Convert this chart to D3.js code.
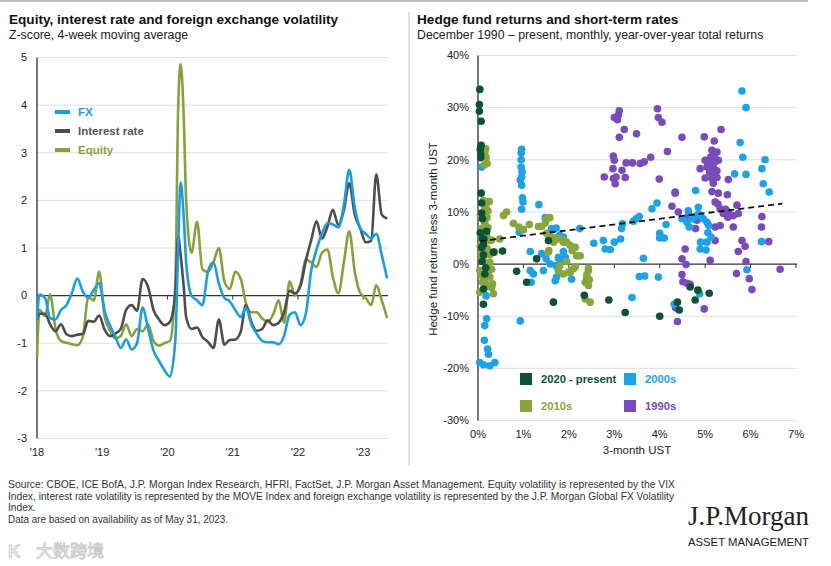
<!DOCTYPE html>
<html>
<head>
<meta charset="utf-8">
<script src="https://cdn.jsdelivr.net/npm/d3@7.9.0/dist/d3.min.js"></script>
<style>
  body { margin: 0; background: #fff; }
  svg { font-family: "Liberation Sans", Arial, sans-serif; }
</style>
</head>
<body>
<svg id="chart" width="831" height="566"></svg>
<script>
// ---- left panel data: z-scores, 4-week moving average ----
const dates = [
  '2018-01-01',
  '2018-01-15','2018-02-15','2018-03-15','2018-04-15','2018-05-15','2018-06-15',
  '2018-07-15','2018-08-15','2018-09-15','2018-10-15','2018-11-15','2018-12-15',
  '2019-01-15','2019-02-15','2019-03-15','2019-04-15','2019-05-15','2019-06-15',
  '2019-07-15','2019-08-15','2019-09-15','2019-10-15','2019-11-15','2019-12-15',
  '2020-01-15','2020-02-15','2020-03-01','2020-03-15','2020-04-01','2020-04-15',
  '2020-05-15','2020-06-15','2020-07-15','2020-08-15','2020-09-15','2020-10-15',
  '2020-11-15','2020-12-15',
  '2021-01-15','2021-02-15','2021-03-15','2021-04-15','2021-05-15','2021-06-15',
  '2021-07-15','2021-08-15','2021-09-15','2021-10-15','2021-11-15','2021-12-15',
  '2022-01-15','2022-02-15','2022-03-15','2022-04-15','2022-05-15','2022-06-15',
  '2022-07-15','2022-08-15','2022-09-15','2022-10-15','2022-11-15','2022-12-15',
  '2023-01-15','2023-02-15','2023-03-15','2023-04-15','2023-05-15'
];

const fx = [
  -0.5,
  0.02, -0.05, -0.47, -0.5, -0.3, -0.2, 0.05, 0.36, 0.08, -0.04, 0.12, 0.26,
  -0.33, -0.64, -0.85, -1.1, -0.92, -1.13, -1.0, -0.25, -0.7, -1.15, -1.37, -1.56,
  -1.7, -0.9, 1.0, 2.38, 1.68, 0.7, 0.0, -0.1, -0.2, 0.5, 0.7, 0.25, -0.05, -0.12,
  -0.3, -0.45, -0.25, -0.6, -0.8, -0.95, -0.98, -0.98, -1.02, -0.85, -0.4, -0.35,
  -0.62, -0.36, 0.5, 0.97, 1.3, 1.52, 1.5, 1.43, 1.9, 2.64, 1.85, 1.42,
  1.3, 1.2, 1.3, 0.85, 0.36
];

const interestRate = [
  -0.5,
  -0.38, -0.38, -0.6, -0.75, -0.6, -0.81, -0.85, -0.82, -0.8, -0.53, -0.55, -0.42,
  -0.72, -0.85, -0.8, -0.7, -0.3, -0.2, -0.32, 0.35, 0.18, -0.3, -0.5, -0.62,
  -0.55, 0.1, 1.25, 0.85, 0.2, -0.45, -0.7, -0.67, -0.87, -0.97, -1.1, -0.5, -1.03, -0.93,
  -0.92, -0.75, -0.2, -0.55, -0.74, -0.7, -0.52, -0.62, -0.57, -0.35, 0.1, 0.05,
  0.2, 0.75, 1.15, 1.56, 1.2, 1.45, 1.8, 1.48, 1.8, 2.36, 1.7, 1.42,
  1.12, 1.15, 2.55, 1.7, 1.62
];

const equity = [
  -1.3,
  -0.3, -0.43, 0.03, -0.7, -0.95, -0.99, -1.02, -1.04, -0.86, -0.03, -0.1, 0.5,
  -0.45, -0.74, -0.9, -0.85, -0.6, -0.85, -0.7, -0.75, -0.6, -0.95, -1.05, -1.0,
  -0.95, 0.3, 3.9, 4.86, 3.8, 2.0, 0.9, 1.55, 0.55, 0.5, 0.7, 1.0, 0.3, 0.14,
  0.5, 0.35, -0.15, -0.35, -0.35, -0.48, -0.55, -0.4, -0.1, -0.57, 0.3, 0.0,
  0.25, 0.76, 0.7, 0.6, 0.9, 0.97, 0.4, 0.05, 0.7, 1.35, 0.5, 0.06,
  -0.05, -0.2, 0.22, -0.1, -0.47
];

const yearTicks = ['2018-01-01','2019-01-01','2020-01-01','2021-01-01','2022-01-01','2023-01-01'];
const yearLabels = ["'18","'19","'20","'21","'22","'23"];
const zTicks = [5, 4, 3, 2, 1, 0, -1, -2, -3];

// ---- right panel data: [3-month UST %, hedge fund return less UST %] ----
const pts1990s = [
  [3.11,29.4],[3.09,28.6],[3.0,28.1],[3.07,27.7],[3.95,29.8],[3.97,28.1],[4.05,27.2],
  [3.22,25.8],[3.49,25.0],[3.11,24.3],[4.49,24.3],[4.98,24.4],[5.35,25.8],[5.2,23.6],
  [4.17,21.6],[2.98,20.7],[3.0,19.9],[3.26,19.4],[3.4,19.4],[3.57,19.3],[3.66,19.6],
  [3.8,20.5],[2.97,18.3],[3.17,18.0],[2.78,16.7],[2.98,16.4],[3.04,16.7],[3.24,16.6],
  [3.02,15.4],[3.99,16.3],[4.34,13.8],[4.89,18.3],[5.15,21.8],[5.26,21.5],[5.0,19.9],
  [5.07,19.6],[5.15,19.9],[5.22,19.6],[5.29,19.9],[5.04,18.6],[5.18,18.5],[5.1,17.6],
  [5.26,17.9],[5.0,16.5],[5.15,16.4],[5.26,16.6],[5.18,15.5],[5.51,16.2],[5.15,13.9],
  [5.29,13.6],[5.49,13.3],[5.12,20.5],[5.2,20.8],[5.08,18.9],[5.22,17.0],
  [4.34,13.6],[4.27,11.1],[4.41,10.0],[4.63,9.3],[4.82,8.4],[4.79,6.8],[5.22,11.9],
  [5.28,11.5],[5.33,10.6],[5.4,9.7],[5.51,10.0],[5.62,9.3],[5.7,11.3],[5.73,9.7],
  [5.33,7.4],[5.22,7.1],[5.62,7.1],[5.22,4.5],[6.25,9.1],[6.24,7.1],[6.4,4.3],
  [5.81,4.5],[5.88,3.4],[5.73,2.4],[5.9,0.5],[6.65,-1.0],[5.69,-1.8],[5.97,-2.8],
  [6.03,-4.9],[4.56,2.9],[4.49,1.0],[4.58,-0.1],[5.11,0.7],[4.49,-2.0],[4.51,-3.4],
  [4.6,-3.7],[4.67,-3.9],[4.98,-8.6],[4.39,-11.0],[4.35,-8.4],[5.45,10.5],[5.5,9.0]
];

const pts2000s = [
  [0.96,22.0],[0.95,21.3],[0.95,20.0],[0.95,18.6],[0.97,17.7],[0.96,16.7],[0.93,16.1],
  [0.96,15.1],[0.98,12.7],[0.99,11.9],[0.96,10.5],[0.91,6.1],[1.34,11.4],[1.48,8.9],
  [1.62,6.8],[1.72,6.9],[1.8,5.5],[1.88,4.8],[1.88,5.2],[2.24,6.8],[2.55,4.0],
  [2.76,4.5],[2.8,2.9],[2.91,2.8],[3.0,4.2],[3.14,4.8],[3.16,6.8],[3.18,7.7],
  [3.42,8.2],[3.48,8.7],[3.55,9.1],[3.83,10.6],[3.94,11.7],[3.64,1.1],[3.55,-2.4],
  [3.67,-2.3],[3.97,-2.5],[3.39,-6.4],[4.0,5.9],[4.0,5.0],[4.1,5.0],[4.14,7.6],
  [4.49,8.7],[4.63,10.2],[4.65,7.1],[4.76,9.0],[4.85,10.9],[4.89,9.3],[4.96,8.7],
  [5.04,8.0],[5.08,7.4],[5.06,6.0],[5.13,5.2],[5.04,4.2],[4.9,4.2],[5.02,2.7],
  [4.89,2.9],[5.92,-1.1],[6.24,4.3],[6.41,13.8],[4.88,-5.7],[4.32,-7.7],[4.79,14.1],
  [5.81,33.2],[5.9,30.0],[5.77,23.3],[5.83,20.5],[6.32,20.0],[6.25,18.3],[5.65,17.3],
  [5.9,17.2],[6.28,15.4],[4.85,9.6],[4.71,8.7],[4.6,8.0],
  [0.08,18.6],[0.04,-18.9],[0.12,-19.3],[0.26,-19.5],[0.37,-18.9],[0.23,-17.3],
  [0.21,-16.3],[0.14,-14.6],[0.15,-11.8],[0.19,-10.5],[0.93,-10.9],[0.18,-6.1],
  [0.19,-4.3],[1.15,2.4],[1.15,-1.25],[1.22,-1.9],[1.17,-3.5],[1.4,2.0],[1.44,-1.25],
  [1.59,0.0],[1.72,-0.3],[1.77,-1.25],[1.7,-3.2],[1.73,-2.5],[1.84,0.7],[1.92,1.3],
  [1.77,1.3],[1.88,2.4],[2.06,-2.9],[1.5,1.0],[1.78,1.0]
];

const pts2010s = [
  [0.17,22.1],[0.15,21.5],[0.18,20.5],[0.2,19.3],[0.14,19.0],[0.12,12.2],[0.17,11.4],
  [0.2,11.8],[0.15,10.6],[0.22,10.2],[0.17,9.6],[0.1,8.7],[0.2,8.9],[0.15,7.8],
  [0.08,6.8],[0.22,7.0],[0.19,5.5],[0.06,5.8],[0.12,4.3],[0.25,4.5],[0.3,4.6],
  [0.05,3.4],[0.2,3.0],[0.08,2.0],[0.26,1.8],[0.37,2.3],[0.08,0.7],[0.26,0.35],
  [0.19,-0.5],[0.04,-1.25],[0.3,-1.0],[0.08,-2.2],[0.26,-2.5],[0.15,-3.2],[0.32,-3.8],
  [0.3,-4.5],[0.04,-5.4],[0.34,-5.7],[0.2,-4.0],[0.1,-3.5],[0.22,-1.8],[0.12,1.2],
  [0.05,9.5],[0.25,12.0],
  [0.56,9.3],[0.63,10.0],[0.78,7.8],[0.9,7.1],[1.0,6.6],[1.13,7.6],[1.33,7.2],
  [1.4,7.2],[1.51,8.7],[1.58,8.9],[1.48,7.9],[0.48,4.8],[1.51,5.9],[1.77,4.8],
  [1.7,5.0],[1.88,4.2],[1.84,4.8],[1.95,4.2],[2.03,3.6],[2.07,2.6],[2.14,3.2],
  [2.17,1.6],[2.21,1.6],[1.56,2.6],[1.66,4.2],[1.55,2.3],[1.62,5.2],[2.43,-0.8],
  [1.77,-1.25],[1.88,-1.9],[2.1,-0.9],[2.14,-0.5],[2.43,-1.25],[2.39,-2.5],[2.36,-3.5],
  [2.43,-4.1],[2.47,-7.3],[2.36,-6.7],[2.4,-2.0],[2.45,-3.0],[1.8,-0.3],[1.95,0.5],
  [2.0,-1.5],[2.25,1.6],[2.03,-1.6]
];

const pts2020s = [
  [0.04,33.5],[0.03,30.6],[0.03,29.3],[0.07,27.4],[0.07,22.8],[0.05,22.0],[0.06,21.0],
  [0.06,20.4],[0.07,13.6],[0.08,11.7],[0.08,9.8],[0.1,8.7],[0.19,6.3],[0.1,4.8],
  [0.08,3.2],[0.13,4.8],[0.12,3.75],[0.12,1.8],[0.34,2.3],[0.54,2.5],[0.17,-0.7],
  [0.15,-1.9],[0.12,-4.8],[0.12,-7.7],[0.85,-1.4],[1.07,-3.5],[1.29,1.0],[1.55,4.5],
  [1.66,-7.3],[2.34,-6.0],[2.88,-6.9],[3.24,-9.3],[4.0,-10.0],[4.39,-7.3],[4.43,-8.8],
  [4.67,-4.4],[4.78,-6.9],[4.84,-5.0],[5.09,-5.6],[0.05,6.0],[0.09,0.5]
];

const trendX = [0.05, 6.7];
const trendY = [4.4, 11.6];
const rateTicks = [0, 1, 2, 3, 4, 5, 6, 7];
const returnTicks = [40, 30, 20, 10, 0, -10, -20, -30];

const svg = d3.select('#chart');
const parse = d3.timeParse('%Y-%m-%d');

// frame
svg.append('line').attr('x1', 0).attr('x2', 808).attr('y1', 1).attr('y2', 1)
  .attr('stroke', '#bdbdbd').attr('stroke-width', 2);
svg.append('line').attr('x1', 409).attr('x2', 409).attr('y1', 12).attr('y2', 466)
  .attr('stroke', '#cfcfcf').attr('stroke-width', 1.2);

// ================= left panel =================
svg.append('text').attr('x', 9).attr('y', 24)
  .attr('font-size', 13.6).attr('font-weight', 'bold').attr('fill', '#111')
  .text('Equity, interest rate and foreign exchange volatility');
svg.append('text').attr('x', 9).attr('y', 39)
  .attr('font-size', 12.3).attr('fill', '#222')
  .text('Z-score, 4-week moving average');

const xL = d3.scaleTime().domain([new Date(2018, 0, 1), new Date(2023, 4, 20)]).range([37, 388]);
const yL = d3.scaleLinear().domain([-3, 5]).range([438.5, 57.5]);

const left = svg.append('g');

left.selectAll('.gridL').data(zTicks.filter(d => d !== 0)).join('line')
  .attr('x1', 37).attr('x2', 388)
  .attr('y1', d => yL(d)).attr('y2', d => yL(d))
  .attr('stroke', '#dedede').attr('stroke-width', 1);

left.selectAll('.ylab').data(zTicks).join('text')
  .attr('x', 27).attr('y', d => yL(d)).attr('dy', '0.35em')
  .attr('text-anchor', 'end').attr('font-size', 11).attr('fill', '#222')
  .text(d => d);

left.selectAll('.xlab').data(yearTicks).join('text')
  .attr('x', d => xL(parse(d))).attr('y', 456)
  .attr('text-anchor', 'middle').attr('font-size', 11).attr('fill', '#222')
  .text((d, i) => yearLabels[i]);

// zero line, ticks and axis
left.append('line').attr('x1', 37).attr('x2', 388)
  .attr('y1', yL(0)).attr('y2', yL(0)).attr('stroke', '#333').attr('stroke-width', 1.2);
left.selectAll('.tickL').data(yearTicks.slice(1)).join('line')
  .attr('x1', d => xL(parse(d))).attr('x2', d => xL(parse(d)))
  .attr('y1', yL(0)).attr('y2', yL(0) + 4)
  .attr('stroke', '#333').attr('stroke-width', 1);
left.append('line').attr('x1', 37).attr('x2', 37)
  .attr('y1', yL(5)).attr('y2', yL(-3)).attr('stroke', '#555').attr('stroke-width', 1.6);

const seriesL = [
  { name: 'Equity', values: equity, color: '#86a33a' },
  { name: 'Interest rate', values: interestRate, color: '#4d4d4d' },
  { name: 'FX', values: fx, color: '#1b9de3' }
];

const lineL = d3.line()
  .x((d, i) => xL(parse(dates[i])))
  .y(d => yL(d))
  .curve(d3.curveMonotoneX);

seriesL.forEach(s => {
  left.append('path')
    .attr('d', lineL(s.values))
    .attr('fill', 'none')
    .attr('stroke', s.color)
    .attr('stroke-width', 2.6)
    .attr('stroke-linejoin', 'round');
});

// legend
const legendL = [
  { name: 'FX', color: '#1b9de3' },
  { name: 'Interest rate', color: '#4d4d4d' },
  { name: 'Equity', color: '#86a33a' }
];
legendL.forEach((d, i) => {
  const y = 112 + i * 19;
  left.append('line').attr('x1', 55).attr('x2', 70).attr('y1', y).attr('y2', y)
    .attr('stroke', d.color).attr('stroke-width', 4);
  left.append('text').attr('x', 78).attr('y', y).attr('dy', '0.35em')
    .attr('font-size', 11.5).attr('font-weight', 'bold')
    .attr('fill', d.name === 'Interest rate' ? '#555' : d.color)
    .text(d.name);
});

// ================= right panel =================
svg.append('text').attr('x', 417).attr('y', 24)
  .attr('font-size', 13.6).attr('font-weight', 'bold').attr('fill', '#111')
  .text('Hedge fund returns and short-term rates');
svg.append('text').attr('x', 417).attr('y', 39)
  .attr('font-size', 12.3).attr('fill', '#222')
  .text('December 1990 \u2013 present, monthly, year-over-year total returns');

const xR = d3.scaleLinear().domain([0, 7]).range([478, 796]);
const yR = d3.scaleLinear().domain([-30, 40]).range([420.5, 55.5]);

const right = svg.append('g');

right.selectAll('.gridR').data(returnTicks.filter(d => d !== 0)).join('line')
  .attr('x1', 478).attr('x2', 797)
  .attr('y1', d => yR(d)).attr('y2', d => yR(d))
  .attr('stroke', '#dedede').attr('stroke-width', 1);

right.selectAll('.ylabR').data(returnTicks).join('text')
  .attr('x', 469).attr('y', d => yR(d)).attr('dy', '0.35em')
  .attr('text-anchor', 'end').attr('font-size', 11).attr('fill', '#222')
  .text(d => d + '%');

right.selectAll('.xlabR').data(rateTicks).join('text')
  .attr('x', d => xR(d)).attr('y', 438)
  .attr('text-anchor', 'middle').attr('font-size', 11).attr('fill', '#222')
  .text(d => d + '%');

right.append('text').attr('x', 637).attr('y', 454)
  .attr('text-anchor', 'middle').attr('font-size', 11.5).attr('fill', '#222')
  .text('3-month UST');
right.append('text')
  .attr('transform', 'translate(437,239) rotate(-90)')
  .attr('text-anchor', 'middle').attr('font-size', 11.5).attr('fill', '#222')
  .text('Hedge fund returns less 3-month UST');

right.append('line').attr('x1', 478).attr('x2', 797)
  .attr('y1', yR(0)).attr('y2', yR(0)).attr('stroke', '#333').attr('stroke-width', 1.2);
right.selectAll('.tickR').data(rateTicks.slice(1)).join('line')
  .attr('x1', d => xR(d)).attr('x2', d => xR(d))
  .attr('y1', yR(0)).attr('y2', yR(0) + 4)
  .attr('stroke', '#333').attr('stroke-width', 1);
right.append('line').attr('x1', 478).attr('x2', 478)
  .attr('y1', yR(40)).attr('y2', yR(-30)).attr('stroke', '#555').attr('stroke-width', 1.6);

const groups = [
  { label: '1990s', pts: pts1990s, color: '#7a4bbb' },
  { label: '2000s', pts: pts2000s, color: '#1ca2ea' },
  { label: '2010s', pts: pts2010s, color: '#88a63a' },
  { label: '2020 - present', pts: pts2020s, color: '#0b5236' }
];

groups.forEach(g => {
  right.append('g').selectAll('circle').data(g.pts).join('circle')
    .attr('cx', d => xR(d[0]))
    .attr('cy', d => yR(d[1]))
    .attr('r', 3.8)
    .attr('fill', g.color);
});

right.append('line')
  .attr('x1', xR(trendX[0])).attr('y1', yR(trendY[0]))
  .attr('x2', xR(trendX[1])).attr('y2', yR(trendY[1]))
  .attr('stroke', '#111').attr('stroke-width', 1.8)
  .attr('stroke-dasharray', '6,4');

// legend
const legendR = [
  { label: '2020 - present', color: '#0b5236', x: 520, y: 373 },
  { label: '2000s', color: '#1ca2ea', x: 624, y: 373 },
  { label: '2010s', color: '#88a63a', x: 520, y: 400 },
  { label: '1990s', color: '#7a4bbb', x: 624, y: 400 }
];
legendR.forEach(d => {
  right.append('rect').attr('x', d.x).attr('y', d.y).attr('width', 12).attr('height', 12)
    .attr('fill', d.color);
  right.append('text').attr('x', d.x + 21).attr('y', d.y + 6).attr('dy', '0.35em')
    .attr('font-size', 11.2).attr('font-weight', 'bold').attr('fill', d.color)
    .text(d.label);
});

// ================= footer =================
const notes = [
  'Source: CBOE, ICE BofA, J.P. Morgan Index Research, HFRI, FactSet, J.P. Morgan Asset Management. Equity volatility is represented by the VIX',
  'Index, interest rate volatility is represented by the MOVE Index and foreign exchange volatility is represented by the J.P. Morgan Global FX Volatility',
  'Index.',
  'Data are based on availability as of May 31, 2023.'
];
const noteWidths = [667, 666, 28, 220];
svg.append('g').selectAll('text').data(notes).join('text')
  .attr('x', 8).attr('y', (d, i) => 488 + i * 11.7)
  .attr('font-size', 10.5).attr('fill', '#333')
  .attr('textLength', (d, i) => noteWidths[i])
  .attr('lengthAdjust', 'spacingAndGlyphs')
  .text(d => d);

svg.append('text').attr('x', 688).attr('y', 525)
  .attr('font-family', '"Liberation Serif", "DejaVu Serif", serif')
  .attr('font-size', 27).attr('fill', '#222')
  .attr('textLength', 121).attr('lengthAdjust', 'spacingAndGlyphs')
  .text('J.P.Morgan');
svg.append('text').attr('x', 688).attr('y', 546)
  .attr('font-size', 11.5).attr('fill', '#222')
  .attr('textLength', 121).attr('lengthAdjust', 'spacingAndGlyphs')
  .text('ASSET MANAGEMENT');

// watermark
svg.append('text').attr('x', 8).attr('y', 557)
  .attr('font-size', 17).attr('font-weight', 'bold')
  .attr('fill', '#f4f4f4').attr('stroke', '#c8c8c8').attr('stroke-width', 0.8)
  .text('K');
svg.append('text').attr('x', 36).attr('y', 557)
  .attr('font-family', '"Noto Sans CJK SC", sans-serif')
  .attr('font-size', 17)
  .attr('fill', '#f4f4f4').attr('stroke', '#c8c8c8').attr('stroke-width', 0.8)
  .text('大数跨境');
</script>
</body>
</html>
